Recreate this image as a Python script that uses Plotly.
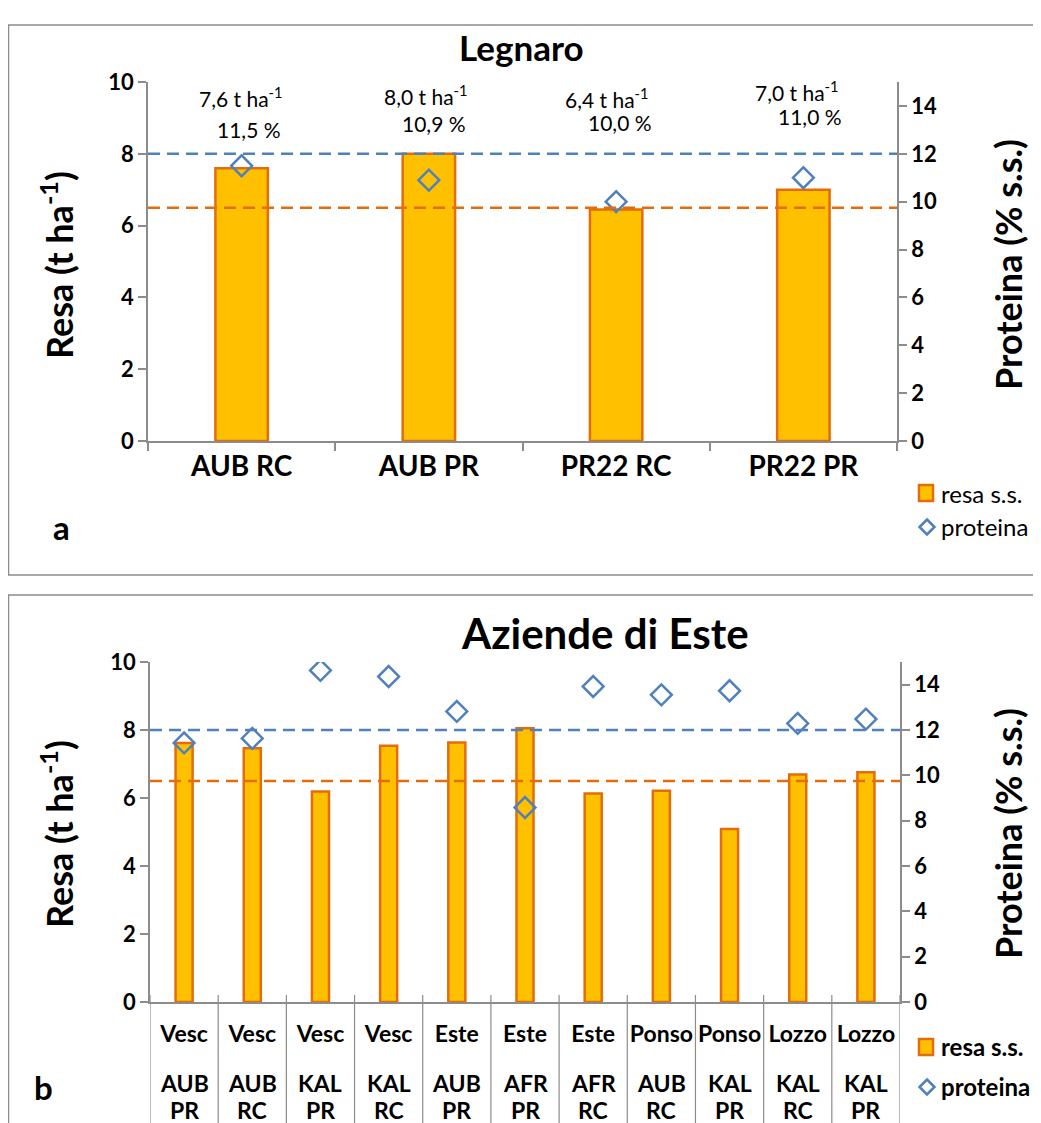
import plotly.graph_objects as go

W, H = 1041, 1123
OX, OY = 8, 8  # page body margin: the figure is drawn 8px in from the page corner
def px(xp): return (xp - OX) / W
def py(yp): return 1 - (yp - OY) / H

# ---------------- data ----------------
leg_cats = ["AUB RC", "AUB PR", "PR22 RC", "PR22 PR"]
leg_resa = [7.6, 8.0, 6.45, 7.0]
leg_prot = [11.5, 10.9, 10.0, 11.0]
leg_resa_lbl = ["7,6", "8,0", "6,4", "7,0"]
leg_prot_lbl = ["11,5 %", "10,9 %", "10,0 %", "11,0 %"]

este_site = ["Vesc", "Vesc", "Vesc", "Vesc", "Este", "Este", "Este", "Ponso", "Ponso", "Lozzo", "Lozzo"]
este_var = ["AUB", "AUB", "KAL", "KAL", "AUB", "AFR", "AFR", "AUB", "KAL", "KAL", "KAL"]
este_tr = ["PR", "RC", "PR", "RC", "PR", "PR", "RC", "RC", "PR", "RC", "PR"]
este_resa = [7.62, 7.46, 6.19, 7.54, 7.63, 8.05, 6.13, 6.21, 5.09, 6.69, 6.76]
este_prot = [11.43, 11.63, 14.63, 14.36, 12.82, 8.58, 13.92, 13.55, 13.73, 12.29, 12.48]

ref_resa = 6.5
ref_prot = 12.0

yl_ticks = [0, 2, 4, 6, 8, 10]
yr_ticks = [0, 2, 4, 6, 8, 10, 12, 14]

# ---------------- style ----------------
FONT = "Lato, 'Open Sans', sans-serif"
BAR_FILL = "#FFC000"
BAR_LINE = "#E46C0A"
BLUE = "#4F81BD"
AXC = "#8C8C8C"
DASH = "12px,7px"

este_x = list(range(len(este_site)))

fig = go.Figure()
fig.add_trace(go.Bar(x=leg_cats, y=leg_resa, xaxis="x", yaxis="y", width=0.28,
                     marker=dict(color=BAR_FILL, line=dict(color=BAR_LINE, width=2.5)),
                     name="resa s.s.", showlegend=False))
fig.add_trace(go.Scatter(x=leg_cats, y=leg_prot, xaxis="x", yaxis="y2", mode="markers",
                         marker=dict(symbol="diamond-open", size=16, color=BLUE, line=dict(width=2.5)),
                         name="proteina", showlegend=False))
fig.add_trace(go.Bar(x=este_x, y=este_resa, xaxis="x2", yaxis="y3", width=0.25,
                     marker=dict(color=BAR_FILL, line=dict(color=BAR_LINE, width=2.5)),
                     name="resa s.s.", showlegend=False))
fig.add_trace(go.Scatter(x=este_x, y=este_prot, xaxis="x2", yaxis="y4", mode="markers",
                         marker=dict(symbol="diamond-open", size=16, color=BLUE, line=dict(width=2.5)),
                         name="proteina", showlegend=False))

axis_common = dict(showline=True, linecolor=AXC, linewidth=1.5, showgrid=False, zeroline=False,
                   ticks="outside", tickcolor=AXC, tickwidth=1.5, ticklen=8, fixedrange=True,
                   automargin=False)
ytf = dict(family=FONT, size=22, color="black", weight="bold")

fig.update_layout(
    width=W, height=H, autosize=False, margin=dict(l=0, r=0, t=0, b=0, pad=0),
    paper_bgcolor="white", plot_bgcolor="rgba(0,0,0,0)",
    font=dict(family=FONT, color="black"),
    showlegend=False,
    xaxis=dict(domain=[px(148), px(897)], anchor="y", type="category", tickson="boundaries",
               tickfont=dict(family=FONT, size=28, color="black", weight="bold"), **axis_common),
    yaxis=dict(domain=[py(441), py(82)], range=[0, 10], tickvals=yl_ticks, anchor="x",
               tickfont=ytf, **axis_common),
    yaxis2=dict(overlaying="y", side="right", range=[0, 15], tickvals=yr_ticks, anchor="x",
                tickfont=ytf, **axis_common),
    xaxis2=dict(domain=[px(150), px(900)], anchor="y3", type="linear", range=[-0.5, len(este_x) - 0.5],
                tickvals=este_x, ticktext=este_site, ticklabelstandoff=11,
                tickfont=dict(family=FONT, size=23, color="black", weight="bold"),
                **{**axis_common, "ticks": ""}),
    yaxis3=dict(domain=[py(1002), py(662)], range=[0, 10], tickvals=yl_ticks, anchor="x2",
                tickfont=ytf, **axis_common),
    yaxis4=dict(overlaying="y3", side="right", range=[0, 15], tickvals=yr_ticks, anchor="x2",
                tickfont=ytf, **axis_common),
)

shapes = []
# chart frames
shapes.append(dict(type="rect", xref="paper", yref="paper", x0=px(8.5), x1=px(1060), y0=py(575), y1=py(25),
                   line=dict(color="#8C8C8C", width=1.5), layer="below"))
shapes.append(dict(type="rect", xref="paper", yref="paper", x0=px(8.5), x1=px(1060), y0=py(1150), y1=py(595),
                   line=dict(color="#8C8C8C", width=1.5), layer="below"))
# reference lines
for xr, yr, val, col in [("x domain", "y", ref_resa, BAR_LINE), ("x domain", "y2", ref_prot, BLUE),
                         ("x2 domain", "y3", ref_resa, BAR_LINE), ("x2 domain", "y4", ref_prot, BLUE)]:
    shapes.append(dict(type="line", xref=xr, yref=yr, x0=0, x1=1, y0=val, y1=val,
                       line=dict(color=col, width=2.5, dash=DASH), layer="above"))
# category separators below bottom chart
for i in range(len(este_x) + 1):
    shapes.append(dict(type="line", xref="x2", yref="paper", x0=i - 0.5, x1=i - 0.5,
                       y0=py(995), y1=py(1150), line=dict(color=AXC, width=1.2)))

# legend keys (drawn manually so the legend may run off the right edge like the reference)
def legend_keys(ysq, ydi):
    out = []
    out.append(dict(type="rect", xref="paper", yref="paper", x0=px(919), x1=px(933),
                    y0=py(ysq + 8), y1=py(ysq - 8), fillcolor=BAR_FILL,
                    line=dict(color=BAR_LINE, width=2.5)))
    cx, cy, r = 927, ydi, 7.5
    path = (f"M {px(cx)} {py(cy - r)} L {px(cx + r)} {py(cy)} L {px(cx)} {py(cy + r)} "
            f"L {px(cx - r)} {py(cy)} Z")
    out.append(dict(type="path", xref="paper", yref="paper", path=path,
                    line=dict(color=BLUE, width=2.5)))
    return out

shapes += legend_keys(493, 527)
shapes += legend_keys(1047, 1087)
fig.update_layout(shapes=shapes)

def txt(text, x, y, size, angle=0, xanchor="center", bold=False):
    return dict(text=f"<b>{text}</b>" if bold else text, x=px(x), y=py(y), xref="paper", yref="paper",
                xanchor=xanchor, yanchor="middle", showarrow=False, textangle=angle,
                font=dict(family=FONT, size=size, color="black"))

ann = []
ann.append(txt("Legnaro", 521, 47, 35, bold=True))
ann.append(txt("Aziende di Este", 605, 633, 42, bold=True))
for yc in (265, 834):
    ann.append(txt("Resa (t ha<sup>-1</sup>)", 57, yc, 36, angle=-90, bold=True))
    ann.append(txt("Proteina (% s.s.)", 1008, yc, 36, angle=-90, bold=True))
ann.append(txt("a", 61, 527, 33, bold=True))
ann.append(txt("b", 43, 1087, 33, bold=True))
ann.append(txt("resa s.s.", 939, 493, 24, xanchor="left"))
ann.append(txt("proteina", 939, 527, 24, xanchor="left"))
ann.append(txt("resa s.s.", 939, 1046, 24, xanchor="left", bold=True))
ann.append(txt("proteina", 939, 1086, 24, xanchor="left", bold=True))

# second and third level of the bottom category axis
for i in este_x:
    for lab, yy in ((este_var[i], 1083), (este_tr[i], 1110)):
        ann.append(dict(text=f"<b>{lab}</b>", x=i, xref="x2", y=py(yy), yref="paper",
                        xanchor="center", yanchor="middle", showarrow=False,
                        font=dict(family=FONT, size=23, color="black")))

y1p = [97, 95, 98, 91]
y2p = [129, 124, 123, 117]
sh1 = [-1, -3, -9, -6]
sh2 = [7, 5, 4, 7]
for i, c in enumerate(leg_cats):
    ann.append(dict(text=f"{leg_resa_lbl[i]} t ha<sup>-1</sup>", x=c, xref="x", y=py(y1p[i]), yref="paper",
                    xanchor="center", yanchor="middle",
                    xshift=sh1[i], showarrow=False, font=dict(family=FONT, size=21)))
    ann.append(dict(text=leg_prot_lbl[i], x=c, xref="x", y=py(y2p[i]), yref="paper",
                    xanchor="center", yanchor="middle",
                    xshift=sh2[i], showarrow=False, font=dict(family=FONT, size=21)))
fig.update_layout(annotations=ann)

fig.write_html("out.html")
